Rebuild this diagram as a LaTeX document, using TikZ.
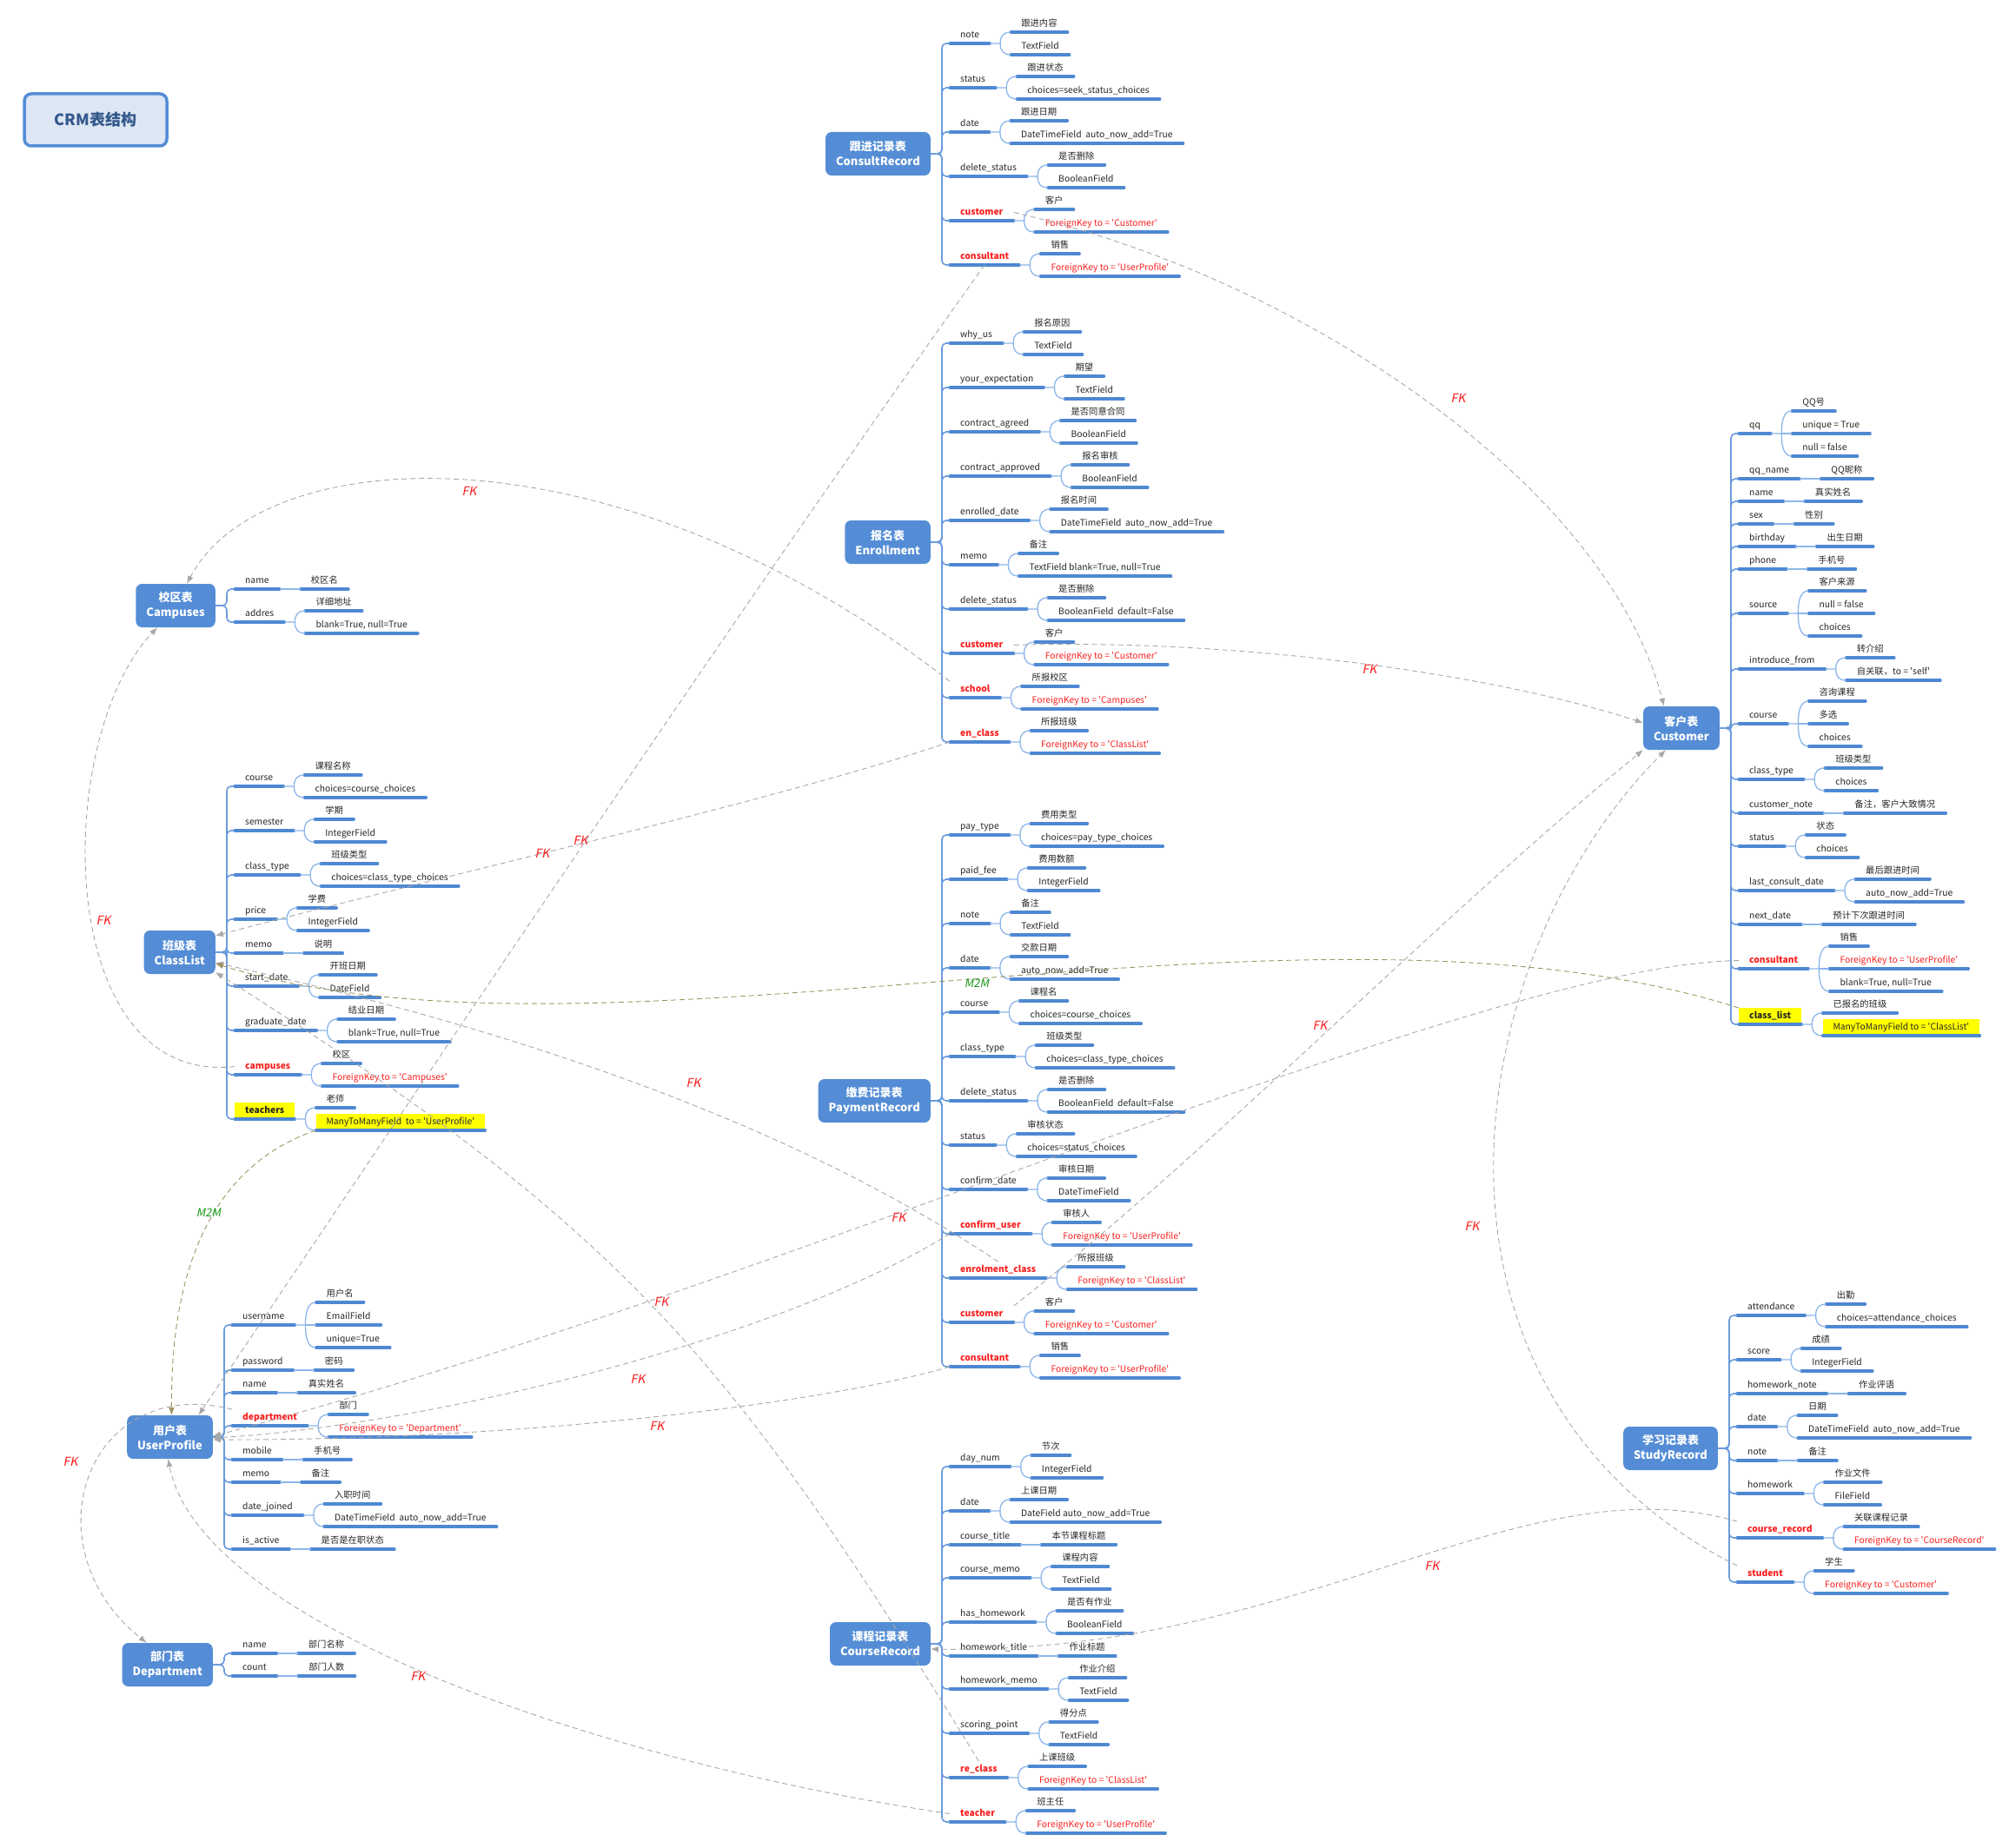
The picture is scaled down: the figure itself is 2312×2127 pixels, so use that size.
\documentclass[tikz,border=0pt]{standalone}
\usepackage{fontspec}
\setmainfont{Noto Sans CJK SC}
\newfontfamily\slantfont{Noto Sans CJK SC}[FakeSlant=0.2]
\usetikzlibrary{arrows.meta,calc,positioning}

\definecolor{boxblue}{RGB}{84,141,214}
\definecolor{lineblue}{RGB}{78,136,210}
\definecolor{trunkblue}{RGB}{108,156,222}
\definecolor{linkblue}{RGB}{140,182,234}
\definecolor{fkred}{RGB}{250,30,30}
\definecolor{fkgray}{RGB}{168,168,168}
\definecolor{mmolive}{RGB}{160,148,98}
\definecolor{mmgreen}{RGB}{20,150,20}
\definecolor{hiyellow}{RGB}{255,255,0}
\definecolor{titlefill}{RGB}{221,230,243}
\definecolor{titletext}{RGB}{52,88,140}

\tikzset{
  titlebox/.style={draw=boxblue, line width=3.5pt, fill=titlefill, rounded corners=8pt,
    minimum width=164pt, minimum height=60pt, text=titletext,
    font=\fontsize{18}{21}\selectfont\bfseries},
  tblbox/.style={fill=boxblue, rounded corners=7pt, text=white, align=center,
    font=\fontsize{13}{17}\selectfont\bfseries, minimum height=50pt, inner xsep=12pt, anchor=east},
  uline/.style={draw=lineblue, line width=3.2pt, line cap=round},
  fld/.style={anchor=south west, inner xsep=12pt, inner ysep=4pt, text height=8pt, text depth=2.5pt,
    font=\fontsize{10.3}{12}\selectfont, text=black!85,
    append after command={(\tikzlastnode.south west) edge[uline] (\tikzlastnode.south east)}},
  nf/.style={}, nf val/.style={},
  fk/.style={text=fkred, font=\fontsize{10.3}{12}\selectfont\bfseries},
  fk val/.style={text=fkred},
  mm/.style={fill=hiyellow, font=\fontsize{10.3}{12}\selectfont\bfseries},
  mm val/.style={fill=hiyellow},
  sublink/.style={draw=linkblue, line width=1.3pt},
  trunkline/.style={draw=trunkblue, line width=1.6pt, rounded corners=5pt},
  fkline/.style={draw=fkgray, line width=0.9pt, dash pattern=on 6pt off 4pt,
    -{Latex[length=9pt,width=7pt]}},
  mmline/.style={fkline, draw=mmolive},
  fklabel/.style={text=fkred, font=\fontsize{14}{16}\slantfont},
  mmlabel/.style={text=mmgreen, font=\fontsize{13}{15}\slantfont}
}

\newcommand{\q}[1]{\textquotesingle#1\textquotesingle}

% field with one value
\newcommand{\fone}[5][nf]{%
  \node[fld,#1] (#2) at (\fx,#3) {#4};
  \node[fld] (#2-a) at ($(#2.south east)+(24,0)$) {#5};
  \draw[sublink] (#2.south east) -- (#2-a.south west);
}
% field with two values
\newcommand{\ftwo}[6][nf]{%
  \node[fld,#1] (#2) at (\fx,#3) {#4};
  \node[fld] (#2-a) at ($(#2.south east)+(24,-13)$) {#5};
  \node[fld,#1 val] (#2-b) at ($(#2.south east)+(24,13)$) {#6};
  \draw[sublink] (#2.south east) -- ++(12,0) coordinate (#2-k)
    .. controls +(0,-9) and +(-8,0) .. (#2-a.south west);
  \draw[sublink] (#2-k) .. controls +(0,9) and +(-8,0) .. (#2-b.south west);
}
% field with three values
\newcommand{\fthree}[7][nf]{%
  \node[fld,#1] (#2) at (\fx,#3) {#4};
  \node[fld] (#2-a) at ($(#2.south east)+(24,-26)$) {#5};
  \node[fld,#1 val] (#2-b) at ($(#2.south east)+(24,0)$) {#6};
  \node[fld] (#2-c) at ($(#2.south east)+(24,26)$) {#7};
  \draw[sublink] (#2.south east) -- ++(12,0) coordinate (#2-k)
    .. controls +(0,-18) and +(-8,0) .. (#2-a.south west);
  \draw[sublink] (#2-k) -- (#2-b.south west);
  \draw[sublink] (#2-k) .. controls +(0,18) and +(-8,0) .. (#2-c.south west);
}
% trunk from a table to its fields
\newcommand{\trunk}[2]{%
  \foreach \f in {#2} {\draw[trunkline] (#1.east) -- ++(13,0) |- (\f.south west);}
}

\begin{document}
\begin{tikzpicture}[x=1pt,y=-1pt]
\useasboundingbox (0,0) rectangle (2312,2127);

\node[titlebox] (crm) at (110,138) {CRM表结构};

% ConsultRecord
\def\fx{1093}
\node[tblbox] (consult) at (1071,177) {跟进记录表\\ConsultRecord};
\ftwo{cr-note}{50}{note}{跟进内容}{TextField}
\ftwo{cr-status}{101}{status}{跟进状态}{choices=seek\_status\_choices}
\ftwo{cr-date}{152}{date}{跟进日期}{DateTimeField\ \ auto\_now\_add=True}
\ftwo{cr-del}{203}{delete\_status}{是否删除}{BooleanField}
\ftwo[fk]{cr-cust}{254}{customer}{客户}{ForeignKey to = \q{Customer}}
\ftwo[fk]{cr-cons}{305}{consultant}{销售}{ForeignKey to = \q{UserProfile}}
\trunk{consult}{cr-note,cr-status,cr-date,cr-del,cr-cust,cr-cons}

% Enrollment
\node[tblbox] (enroll) at (1071,624) {报名表\\Enrollment};
\ftwo{en-why}{395}{why\_us}{报名原因}{TextField}
\ftwo{en-exp}{446}{your\_expectation}{期望}{TextField}
\ftwo{en-agr}{497}{contract\_agreed}{是否同意合同}{BooleanField}
\ftwo{en-apr}{548}{contract\_approved}{报名审核}{BooleanField}
\ftwo{en-date}{599}{enrolled\_date}{报名时间}{DateTimeField\ \ auto\_now\_add=True}
\ftwo{en-memo}{650}{memo}{备注}{TextField blank=True, null=True}
\ftwo{en-del}{701}{delete\_status}{是否删除}{BooleanField\ \ default=False}
\ftwo[fk]{en-cust}{752}{customer}{客户}{ForeignKey to = \q{Customer}}
\ftwo[fk]{en-school}{803}{school}{所报校区}{ForeignKey to = \q{Campuses}}
\ftwo[fk]{en-class}{854}{en\_class}{所报班级}{ForeignKey to = \q{ClassList}}
\trunk{enroll}{en-why,en-exp,en-agr,en-apr,en-date,en-memo,en-del,en-cust,en-school,en-class}

% PaymentRecord
\node[tblbox] (payment) at (1071,1267) {缴费记录表\\PaymentRecord};
\ftwo{py-ptype}{961}{pay\_type}{费用类型}{choices=pay\_type\_choices}
\ftwo{py-fee}{1012}{paid\_fee}{费用数额}{IntegerField}
\ftwo{py-note}{1063}{note}{备注}{TextField}
\ftwo{py-date}{1114}{date}{交款日期}{auto\_now\_add=True}
\ftwo{py-course}{1165}{course}{课程名}{choices=course\_choices}
\ftwo{py-ctype}{1216}{class\_type}{班级类型}{choices=class\_type\_choices}
\ftwo{py-del}{1267}{delete\_status}{是否删除}{BooleanField\ \ default=False}
\ftwo{py-status}{1318}{status}{审核状态}{choices=status\_choices}
\ftwo{py-cdate}{1369}{confirm\_date}{审核日期}{DateTimeField}
\ftwo[fk]{py-cuser}{1420}{confirm\_user}{审核人}{ForeignKey to = \q{UserProfile}}
\ftwo[fk]{py-class}{1471}{enrolment\_class}{所报班级}{ForeignKey to = \q{ClassList}}
\ftwo[fk]{py-cust}{1522}{customer}{客户}{ForeignKey to = \q{Customer}}
\ftwo[fk]{py-cons}{1573}{consultant}{销售}{ForeignKey to = \q{UserProfile}}
\trunk{payment}{py-ptype,py-fee,py-note,py-date,py-course,py-ctype,py-del,py-status,py-cdate,py-cuser,py-class,py-cust,py-cons}

% CourseRecord
\node[tblbox] (course) at (1071,1892) {课程记录表\\CourseRecord};
\ftwo{co-day}{1688}{day\_num}{节次}{IntegerField}
\ftwo{co-date}{1739}{date}{上课日期}{DateField auto\_now\_add=True}
\fone{co-title}{1778}{course\_title}{本节课程标题}
\ftwo{co-memo}{1816}{course\_memo}{课程内容}{TextField}
\ftwo{co-hw}{1867}{has\_homework}{是否有作业}{BooleanField}
\fone{co-hwt}{1906}{homework\_title}{作业标题}
\ftwo{co-hwm}{1944}{homework\_memo}{作业介绍}{TextField}
\ftwo{co-score}{1995}{scoring\_point}{得分点}{TextField}
\ftwo[fk]{co-class}{2046}{re\_class}{上课班级}{ForeignKey to = \q{ClassList}}
\ftwo[fk]{co-teach}{2097}{teacher}{班主任}{ForeignKey to = \q{UserProfile}}
\trunk{course}{co-day,co-date,co-title,co-memo,co-hw,co-hwt,co-hwm,co-score,co-class,co-teach}

% Customer
\def\fx{2001}
\node[tblbox] (cust) at (1979,838) {客户表\\Customer};
\fthree{cu-qq}{499}{qq}{QQ号}{unique = True}{null = false}
\fone{cu-qqn}{551}{qq\_name}{QQ昵称}
\fone{cu-name}{577}{name}{真实姓名}
\fone{cu-sex}{603}{sex}{性别}
\fone{cu-bday}{629}{birthday}{出生日期}
\fone{cu-phone}{655}{phone}{手机号}
\fthree{cu-src}{706}{source}{客户来源}{null = false}{choices}
\ftwo{cu-intro}{770}{introduce\_from}{转介绍}{自关联，to = \q{self}}
\fthree{cu-course}{833}{course}{咨询课程}{多选}{choices}
\ftwo{cu-ctype}{897}{class\_type}{班级类型}{choices}
\fone{cu-note}{936}{customer\_note}{备注，客户大致情况}
\ftwo{cu-status}{974}{status}{状态}{choices}
\ftwo{cu-last}{1025}{last\_consult\_date}{最后跟进时间}{auto\_now\_add=True}
\fone{cu-next}{1064}{next\_date}{预计下次跟进时间}
\fthree[fk]{cu-cons}{1115}{consultant}{销售}{ForeignKey to = \q{UserProfile}}{blank=True, null=True}
\ftwo[mm]{cu-cl}{1179}{class\_list}{已报名的班级}{ManyToManyField to = \q{ClassList}}
\trunk{cust}{cu-qq,cu-qqn,cu-name,cu-sex,cu-bday,cu-phone,cu-src,cu-intro,cu-course,cu-ctype,cu-note,cu-status,cu-last,cu-next,cu-cons,cu-cl}

% StudyRecord
\def\fx{1999}
\node[tblbox] (study) at (1977,1667) {学习记录表\\StudyRecord};
\ftwo{sr-att}{1514}{attendance}{出勤}{choices=attendance\_choices}
\ftwo{sr-score}{1565}{score}{成绩}{IntegerField}
\fone{sr-hwn}{1604}{homework\_note}{作业评语}
\ftwo{sr-date}{1642}{date}{日期}{DateTimeField\ \ auto\_now\_add=True}
\fone{sr-note}{1681}{note}{备注}
\ftwo{sr-hw}{1719}{homework}{作业文件}{FileField}
\ftwo[fk]{sr-crec}{1770}{course\_record}{关联课程记录}{ForeignKey to = \q{CourseRecord}}
\ftwo[fk]{sr-stu}{1821}{student}{学生}{ForeignKey to = \q{Customer}}
\trunk{study}{sr-att,sr-score,sr-hwn,sr-date,sr-note,sr-hw,sr-crec,sr-stu}

% Campuses
\def\fx{270}
\node[tblbox] (camp) at (248,697) {校区表\\Campuses};
\fone{ca-name}{678}{name}{校区名}
\ftwo{ca-addr}{716}{addres}{详细地址}{blank=True, null=True}
\trunk{camp}{ca-name,ca-addr}

% ClassList
\node[tblbox] (clist) at (248,1096) {班级表\\ClassList};
\ftwo{cl-course}{905}{course}{课程名称}{choices=course\_choices}
\ftwo{cl-sem}{956}{semester}{学期}{IntegerField}
\ftwo{cl-ctype}{1007}{class\_type}{班级类型}{choices=class\_type\_choices}
\ftwo{cl-price}{1058}{price}{学费}{IntegerField}
\fone{cl-memo}{1097}{memo}{说明}
\ftwo{cl-start}{1135}{start\_date}{开班日期}{DateField}
\ftwo{cl-grad}{1186}{graduate\_date}{结业日期}{blank=True, null=True}
\ftwo[fk]{cl-camp}{1237}{campuses}{校区}{ForeignKey to = \q{Campuses}}
\ftwo[mm]{cl-teach}{1288}{teachers}{老师}{ManyToManyField\ \ to = \q{UserProfile}}
\trunk{clist}{cl-course,cl-sem,cl-ctype,cl-price,cl-memo,cl-start,cl-grad,cl-camp,cl-teach}

% UserProfile
\def\fx{267}
\node[tblbox] (user) at (245,1654) {用户表\\UserProfile};
\fthree{up-uname}{1525}{username}{用户名}{EmailField}{unique=True}
\fone{up-pwd}{1577}{password}{密码}
\fone{up-name}{1603}{name}{真实姓名}
\ftwo[fk]{up-dept}{1641}{department}{部门}{ForeignKey to = \q{Department}}
\fone{up-mobile}{1680}{mobile}{手机号}
\fone{up-memo}{1706}{memo}{备注}
\ftwo{up-join}{1744}{date\_joined}{入职时间}{DateTimeField\ \ auto\_now\_add=True}
\fone{up-active}{1783}{is\_active}{是否是在职状态}
\trunk{user}{up-uname,up-pwd,up-name,up-dept,up-mobile,up-memo,up-join,up-active}

% Department
\node[tblbox] (dept) at (245,1916) {部门表\\Department};
\fone{dp-name}{1903}{name}{部门名称}
\fone{dp-count}{1929}{count}{部门人数}
\trunk{dept}{dp-name,dp-count}

% relations
\draw[fkline] (cr-cust.east) .. controls (1500,320) and (1850,560) .. ([xshift=-20pt]cust.north);
\draw[fkline] (cr-cons.south) .. controls (850,700) and (450,1300) .. ([xshift=33pt]user.north);
\draw[fkline] (en-cust.east) .. controls (1400,735) and (1700,770) .. ([yshift=6pt]cust.west);
\draw[fkline] (en-school.north west) .. controls (700,480) and (300,510) .. ([xshift=13pt]camp.north);
\draw[fkline] (en-class.south west) .. controls (900,920) and (500,1010) .. ([yshift=19pt]clist.east);
\draw[fkline] (py-cuser.south west) .. controls (900,1540) and (500,1640) .. ([yshift=-1pt]user.east);
\draw[fkline] (py-class.north) .. controls (885,1276) and (543,1174) .. ([yshift=-12pt]clist.east);
\draw[fkline] (py-cust.north east) .. controls (1400,1320) and (1650,1060) .. (cust.south west);
\draw[fkline] (py-cons.south west) .. controls (950,1615) and (600,1658) .. ([yshift=-3pt]user.east);
\draw[fkline] (co-class.north) .. controls (836,1554) and (715,1414) .. ([yshift=-23pt]clist.east);
\draw[fkline] (co-teach.west) .. controls (700,2030) and (230,1870) .. ([xshift=-2pt]user.south);
\draw[fkline] (cu-cons.west) .. controls (1700,1110) and (900,1480) .. ([yshift=1pt]user.east);
\draw[mmline] (cu-cl.north west) .. controls (1500,1000) and (700,1250) .. ([yshift=-13pt]clist.east);
\draw[fkline] (cl-camp.west) .. controls (60,1250) and (60,850) .. ([xshift=-21pt]camp.south);
\draw[mmline] (cl-teach-b.south west) .. controls (250,1340) and (196,1450) .. ([xshift=2pt]user.north);
\draw[fkline] (up-dept.north west) .. controls (100,1580) and (30,1780) .. ([xshift=-24pt]dept.north);
\draw[fkline] (sr-crec.north west) .. controls (1750,1680) and (1500,1905) .. ([yshift=-6pt]course.east);
\draw[fkline] (sr-stu.north west) .. controls (1600,1600) and (1680,1100) .. ([xshift=-18pt]cust.south);

\node[fklabel] (fk-a) at (1678,458) {FK};
\node[fklabel] (fk-b) at (668,967) {FK};
\node[fklabel] (fk-c) at (1576,770) {FK};
\node[fklabel] (fk-d) at (540,565) {FK};
\node[fklabel] (fk-e) at (624,982) {FK};
\node[fklabel] (fk-f) at (734,1587) {FK};
\node[fklabel] (fk-g) at (798,1246) {FK};
\node[fklabel] (fk-h) at (1519,1180) {FK};
\node[fklabel] (fk-i) at (756,1641) {FK};
\node[fklabel] (fk-j) at (761,1498) {FK};
\node[fklabel] (fk-k) at (481,1929) {FK};
\node[fklabel] (fk-l) at (1034,1401) {FK};
\node[fklabel] (fk-m) at (119,1059) {FK};
\node[fklabel] (fk-n) at (81,1682) {FK};
\node[fklabel] (fk-o) at (1648,1802) {FK};
\node[fklabel] (fk-p) at (1694,1411) {FK};
\node[mmlabel] (mm-a) at (1124,1132) {M2M};
\node[mmlabel] (mm-b) at (240,1396) {M2M};
\end{tikzpicture}
\end{document}
